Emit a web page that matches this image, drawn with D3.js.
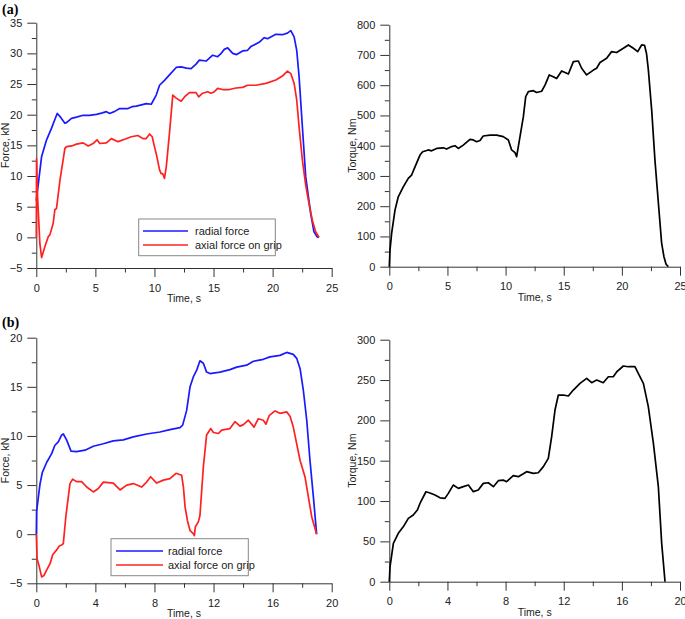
<!DOCTYPE html>
<html><head><meta charset="utf-8">
<script src="https://cdn.jsdelivr.net/npm/d3@7"></script>
<style>body{margin:0;background:#fff}svg{display:block}</style>
</head><body>
<svg id="c" width="685" height="619"></svg>
<script>
// ---------- DATA ----------
// Panel (a): forces [time s, kN]
const aRadial = [[0,6],[0.45,13.2],[0.87,15.9],[1.29,17.8],[1.71,19.9],[1.78,20.2],[2.05,19.6],[2.42,18.6],[2.56,18.7],[2.98,19.4],[3.4,19.6],[3.96,19.9],[4.5,19.9],[5.09,20.05],[5.6,20.3],[5.93,20.5],[6.2,20.2],[6.6,20.5],[7.06,21.0],[7.76,21.0],[8.1,21.3],[8.46,21.4],[8.9,21.6],[9.3,21.8],[9.73,21.7],[10.15,23.2],[10.43,24.8],[10.85,25.6],[11.27,26.5],[11.84,27.7],[12.26,27.8],[12.7,27.6],[13.1,27.5],[13.5,28.2],[13.8,28.9],[14.37,28.75],[14.93,29.7],[15.35,29.45],[15.6,29.9],[15.91,30.65],[16.2,30.9],[16.62,30.0],[16.95,29.8],[17.46,30.4],[17.88,30.5],[18.16,31.1],[18.86,31.8],[19.29,32.55],[19.57,32.4],[20.27,33.1],[20.83,33.04],[21.25,33.3],[21.54,33.7],[21.82,32.7],[22.04,30.5],[22.24,26.2],[22.52,18.0],[22.8,9.9],[23.22,3.9],[23.5,0.9],[23.78,0.05],[23.93,0]];
const aAxial = [[0,0],[0.02,12.8],[0.1,7],[0.3,-1],[0.45,-3.3],[0.73,-1.5],[1.01,0.1],[1.15,0.4],[1.43,2.3],[1.57,4.5],[1.71,4.7],[2.0,9.3],[2.42,14.5],[2.56,14.8],[3.0,14.9],[3.4,15.2],[3.96,15.4],[4.39,14.9],[4.81,15.3],[5.14,15.9],[5.37,15.3],[5.93,15.4],[6.35,16.1],[6.92,15.6],[7.48,16.0],[8.04,16.4],[8.6,16.6],[9.02,16.1],[9.3,16.1],[9.59,16.85],[9.81,16.4],[10.0,14.8],[10.2,13.2],[10.43,11.0],[10.57,10.4],[10.7,10.4],[10.85,9.6],[11.0,11.5],[11.27,17.0],[11.55,23.2],[11.84,22.7],[12.26,22.2],[12.54,22.9],[12.96,23.6],[13.52,23.6],[13.74,22.9],[14.08,23.5],[14.5,23.75],[14.79,23.5],[15.07,23.75],[15.35,24.3],[15.77,24.1],[16.33,24.1],[16.9,24.35],[17.46,24.45],[17.88,24.8],[18.58,24.8],[19.43,25.1],[20.27,25.65],[20.83,26.3],[21.25,27.1],[21.54,26.7],[21.82,25.1],[22.04,22.4],[22.24,18.0],[22.52,12.6],[22.8,8.5],[23.08,5.5],[23.36,2.8],[23.64,0.9],[23.93,0]];
// Panel (a): torque [time s, Nm]
const aTorque = [[0,0],[0.06,55],[0.2,110],[0.49,187],[0.77,231],[1.2,264],[1.63,292],[1.92,303],[2.21,330],[2.64,369],[2.87,380],[3.35,386],[3.64,383],[4.07,391],[4.64,393],[4.93,389],[5.36,397],[5.65,400],[5.93,391],[6.36,402],[6.94,421],[7.22,419],[7.51,413],[7.8,417],[8.08,432],[8.66,435],[9.23,435],[9.8,430],[10.24,419],[10.52,386],[10.81,377],[10.95,364],[11.24,430],[11.53,496],[11.73,562],[11.96,579],[12.39,582],[12.67,576],[13.1,580],[13.39,600],[13.76,634],[14.1,628],[14.39,622],[14.82,647],[15.4,637],[15.83,678],[16.26,680],[16.54,656],[16.97,634],[17.55,650],[17.83,656],[18.12,675],[18.69,689],[19.12,711],[19.55,708],[20.13,722],[20.56,733],[20.99,722],[21.36,711],[21.7,733],[21.95,732],[22.12,705],[22.28,650],[22.57,515],[22.85,350],[23.19,187],[23.42,78],[23.62,33],[23.8,8],[24.0,0]];
// Panel (b): forces [time s, kN]
const bRadial = [[0,0],[0.02,2.3],[0.25,5.1],[0.41,6.3],[0.7,7.3],[1.04,8.2],[1.26,9.05],[1.49,9.4],[1.72,10.1],[1.83,10.2],[2.05,9.6],[2.35,8.45],[2.73,8.4],[3.3,8.55],[3.86,8.95],[4.54,9.2],[5.21,9.5],[5.89,9.6],[6.57,9.9],[7.47,10.2],[8.37,10.4],[9.05,10.65],[9.73,10.85],[9.91,11.1],[10.18,12.6],[10.41,15.0],[10.63,16.0],[10.86,16.7],[11.08,17.65],[11.31,17.4],[11.53,16.5],[11.76,16.35],[12.44,16.5],[13.11,16.75],[13.57,17.0],[14.24,17.2],[14.7,17.6],[15.37,17.8],[15.82,18.05],[16.5,18.2],[16.95,18.5],[17.4,18.3],[17.63,17.9],[17.86,16.85],[18.08,14.65],[18.31,11.6],[18.53,7.5],[18.76,3.8],[18.98,0]];
const bAxial = [[0,0],[0.05,-2.5],[0.2,-3.3],[0.36,-4.35],[0.52,-4.2],[0.7,-3.65],[0.93,-3.0],[1.11,-2.1],[1.38,-1.6],[1.56,-1.2],[1.72,-1.1],[1.83,-0.95],[2.0,1.8],[2.28,5.15],[2.46,5.6],[2.73,5.35],[3.07,5.35],[3.41,4.8],[3.86,4.3],[4.2,4.65],[4.54,5.3],[5.21,5.2],[5.67,4.5],[6.12,5.0],[6.57,5.15],[7.13,4.8],[7.47,5.3],[7.74,5.85],[8.15,5.2],[8.6,5.5],[9.05,5.65],[9.46,6.2],[9.84,6.0],[9.96,4.8],[10.07,2.8],[10.23,1.4],[10.41,0.35],[10.63,0.05],[10.7,-0.15],[10.77,0.75],[10.97,1.25],[11.08,1.9],[11.31,6.85],[11.53,10.1],[11.81,10.75],[11.99,10.35],[12.33,10.25],[12.55,10.6],[13.11,10.75],[13.45,11.45],[13.79,11.0],[14.02,11.15],[14.36,11.6],[14.74,10.9],[15.03,11.75],[15.37,11.6],[15.55,11.2],[15.78,12.1],[16.16,12.55],[16.5,12.3],[16.95,12.45],[17.18,12.0],[17.4,10.9],[17.63,9.2],[17.86,7.5],[18.19,5.85],[18.42,3.8],[18.65,1.75],[18.98,0]];
// Panel (b): torque [time s, Nm]
const bTorque = [[0,0],[0.05,18.6],[0.28,47.5],[0.62,60],[0.96,68],[1.31,78.5],[1.65,82.6],[1.93,88.8],[2.11,97],[2.52,111.5],[2.8,110],[3.14,107.4],[3.49,104],[3.83,103.3],[4.06,109.5],[4.4,119.8],[4.75,115.7],[5.09,117.8],[5.44,119.8],[5.78,111.6],[6.12,113.6],[6.47,121.9],[6.81,122.7],[7.16,117.8],[7.5,125.2],[7.84,126],[8.07,124],[8.53,131.4],[8.88,130.2],[9.45,136.4],[9.91,134.3],[10.25,135.1],[10.6,142.6],[10.94,152.9],[11.17,179.8],[11.4,212.8],[11.63,231.4],[11.97,231.4],[12.32,230.2],[12.66,237.6],[13.12,245.9],[13.58,252],[13.92,246.7],[14.27,250],[14.72,246.7],[15.07,254.1],[15.41,254.1],[15.64,260],[16.1,267.4],[16.44,266.5],[16.9,266.5],[17.13,258.3],[17.48,245.9],[17.82,217],[18.17,171.5],[18.51,117.8],[18.74,47.5],[18.97,0]];

// Axis ticks
const aForceTicks = [-5,0,5,10,15,20,25,30,35];
const aTimeTicks = [0,5,10,15,20,25];
const aTorqueTicks = [0,100,200,300,400,500,600,700,800];
const bForceTicks = [-5,0,5,10,15,20];
const bTimeTicks = [0,4,8,12,16,20];
const bTorqueTicks = [0,50,100,150,200,250,300];

const legendLabels = ["radial force","axial force on grip"];
const panelLabels = ["(a)","(b)"];
const xTitle = "Time, s";
const forceTitle = "Force, kN";
const torqueTitle = "Torque, Nm";

// ---------- DRAW ----------
const svg = d3.select("#c");
const FONT = "'Liberation Sans', Arial, sans-serif";
const AX = "#333";
const BLUE = "#1a1aff", RED = "#ff2020";

function panel(o){
  const x = d3.scaleLinear().domain([o.xt[0], o.xt[o.xt.length-1]]).range([o.x0, o.x1]);
  const y = d3.scaleLinear().domain([o.yt[0], o.yt[o.yt.length-1]]).range([o.y0, o.y1]);
  const g = svg.append("g");
  const xs = o.xt[1]-o.xt[0], ys = o.yt[1]-o.yt[0];
  const xMinor = d3.range(o.xt[0]+xs/2, o.xt[o.xt.length-1], xs);
  const yMinor = d3.range(o.yt[0]+ys/2, o.yt[o.yt.length-1], ys);
  g.append("g").attr("transform",`translate(0,${o.y0})`)
    .call(d3.axisBottom(x).tickValues(xMinor).tickSize(4.5).tickFormat("")).call(s=>s.select(".domain").remove());
  g.append("g").attr("transform",`translate(${o.x0},0)`)
    .call(d3.axisLeft(y).tickValues(yMinor).tickSize(4.5).tickFormat("")).call(s=>s.select(".domain").remove());
  g.append("g").attr("transform",`translate(0,${o.y0})`)
    .call(d3.axisBottom(x).tickValues(o.xt).tickSize(9).tickPadding(7).tickSizeOuter(0).tickFormat(d3.format("d")));
  g.append("g").attr("transform",`translate(${o.x0},0)`)
    .call(d3.axisLeft(y).tickValues(o.yt).tickSize(9).tickPadding(5).tickSizeOuter(0).tickFormat(d3.format("d")));
  g.selectAll(".domain, .tick line").attr("stroke",AX).attr("stroke-width",1);
  g.selectAll(".tick text").attr("font-family",FONT).attr("font-size",11).attr("fill","#222");
  g.append("text").attr("x",(o.x0+o.x1)/2).attr("y",o.y0+34).attr("text-anchor","middle")
    .attr("font-family",FONT).attr("font-size",10.5).attr("fill","#222").text(xTitle);
  g.append("text").attr("transform",`translate(${o.ytx},${(o.y0+o.y1)/2}) rotate(-90)`).attr("text-anchor","middle")
    .attr("font-family",FONT).attr("font-size",10.5).attr("fill","#222").text(o.ytitle);
  const line = d3.line().x(d=>x(d[0])).y(d=>y(d[1]));
  o.series.forEach(s=>{
    g.append("path").datum(s.data).attr("d",line).attr("fill","none")
      .attr("stroke",s.color).attr("stroke-width",1.7).attr("stroke-linejoin","round");
  });
  return g;
}

function legend(bx,by,bw,bh,l1y,l2y,lx0,lx1,tx){
  const g = svg.append("g");
  g.append("rect").attr("x",bx).attr("y",by).attr("width",bw).attr("height",bh)
    .attr("fill","#fff").attr("stroke","#888").attr("stroke-width",1);
  [[l1y,BLUE,legendLabels[0]],[l2y,RED,legendLabels[1]]].forEach(([yy,c,t])=>{
    g.append("line").attr("x1",lx0).attr("x2",lx1).attr("y1",yy).attr("y2",yy).attr("stroke",c).attr("stroke-width",1.7);
    g.append("text").attr("x",tx).attr("y",yy+4).attr("font-family",FONT).attr("font-size",11).attr("fill","#222").text(t);
  });
}

panel({x0:36.3,x1:331.7,y0:268,y1:22.7,xt:aTimeTicks,yt:aForceTicks,ytx:9,ytitle:forceTitle,
  series:[{data:aRadial,color:BLUE},{data:aAxial,color:RED}]});
legend(138.7,219,136.6,36.7,231,245,143,188,195);
panel({x0:389.3,x1:680,y0:266.7,y1:24.7,xt:aTimeTicks,yt:aTorqueTicks,ytx:356,ytitle:torqueTitle,
  series:[{data:aTorque,color:"#000"}]});
panel({x0:36.3,x1:331.7,y0:583.3,y1:337.7,xt:bTimeTicks,yt:bForceTicks,ytx:9,ytitle:forceTitle,
  series:[{data:bRadial,color:BLUE},{data:bAxial,color:RED}]});
legend(111,538.7,137.3,37,551,565,116,163,168);
panel({x0:389.3,x1:680,y0:581.7,y1:339.7,xt:bTimeTicks,yt:bTorqueTicks,ytx:356,ytitle:torqueTitle,
  series:[{data:bTorque,color:"#000"}]});

svg.append("text").attr("x",2).attr("y",14).attr("font-family","'Liberation Serif', 'Times New Roman', serif")
  .attr("font-weight","bold").attr("font-size",14).text(panelLabels[0]);
svg.append("text").attr("x",2).attr("y",327).attr("font-family","'Liberation Serif', 'Times New Roman', serif")
  .attr("font-weight","bold").attr("font-size",14).text(panelLabels[1]);
</script>
</body></html>
